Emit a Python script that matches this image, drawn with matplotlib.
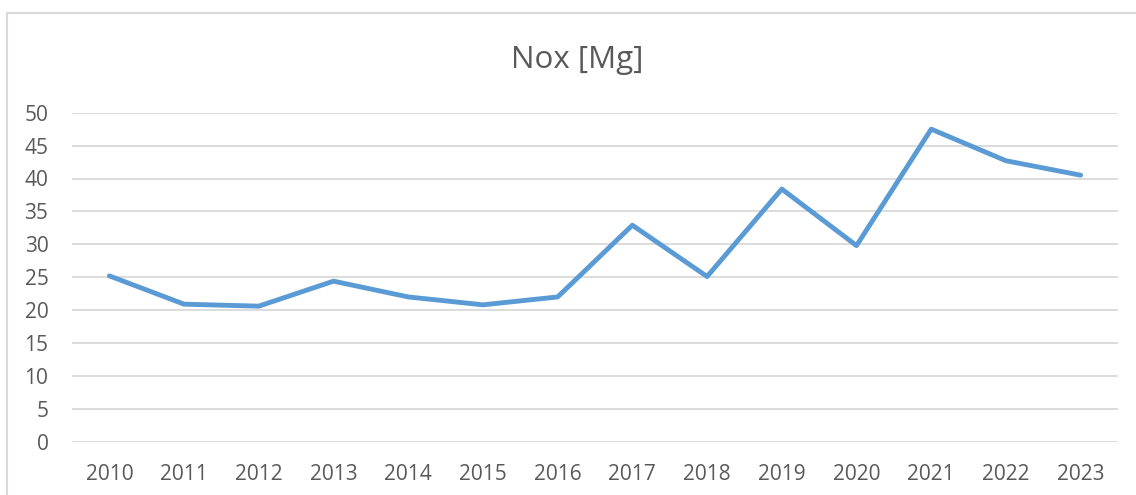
import matplotlib
matplotlib.use("Agg")
import matplotlib.pyplot as plt
from matplotlib.patches import Rectangle

# data
years = ["2010", "2011", "2012", "2013", "2014", "2015", "2016",
         "2017", "2018", "2019", "2020", "2021", "2022", "2023"]
nox = [25.2, 20.9, 20.6, 24.4, 22.0, 20.8, 22.0,
       32.9, 25.1, 38.4, 29.8, 47.5, 42.7, 40.5]
yticks = [0, 5, 10, 15, 20, 25, 30, 35, 40, 45, 50]

plt.rcParams['font.family'] = ['Open Sans', 'DejaVu Sans']

W, H = 1136, 495
fig = plt.figure(figsize=(W / 100, H / 100), dpi=100)

# plot area in pixels: left 72, right 1118, top 112.7, bottom 441.7
left, right, top, bottom = 72, 1118, 112.7, 441.7
ax = fig.add_axes([left / W, 1 - bottom / H, (right - left) / W, (bottom - top) / H])

x = list(range(len(years)))
ax.plot(x, nox, color="#5B9BD5", linewidth=3.5, solid_joinstyle="round",
        solid_capstyle="round", zorder=3)

ax.set_xlim(-0.5, len(years) - 0.5)
ax.set_ylim(0, 50)
ax.set_yticks(yticks)
ax.set_xticks(x)
ax.set_xticklabels(years)
ax.grid(axis="y", color="#d9d9d9", linewidth=1.3)
ax.set_axisbelow(True)
for s in ax.spines.values():
    s.set_visible(False)
ax.tick_params(length=0, labelsize=15, labelcolor="#595959")
ax.tick_params(axis="y", pad=17)
ax.tick_params(axis="x", pad=16)

# chart border (top and left visible)
fig.patches.append(Rectangle((7 / W, -0.1), 1.2, (H - 13) / H + 0.1,
                             transform=fig.transFigure, fill=False,
                             edgecolor="#d9d9d9", linewidth=1.5))

fig.text(577 / W, 1 - 60 / H, "Nox [Mg]", ha="center", va="center",
         fontsize=22.5, color="#595959")

fig.savefig("out.png", dpi=100)
